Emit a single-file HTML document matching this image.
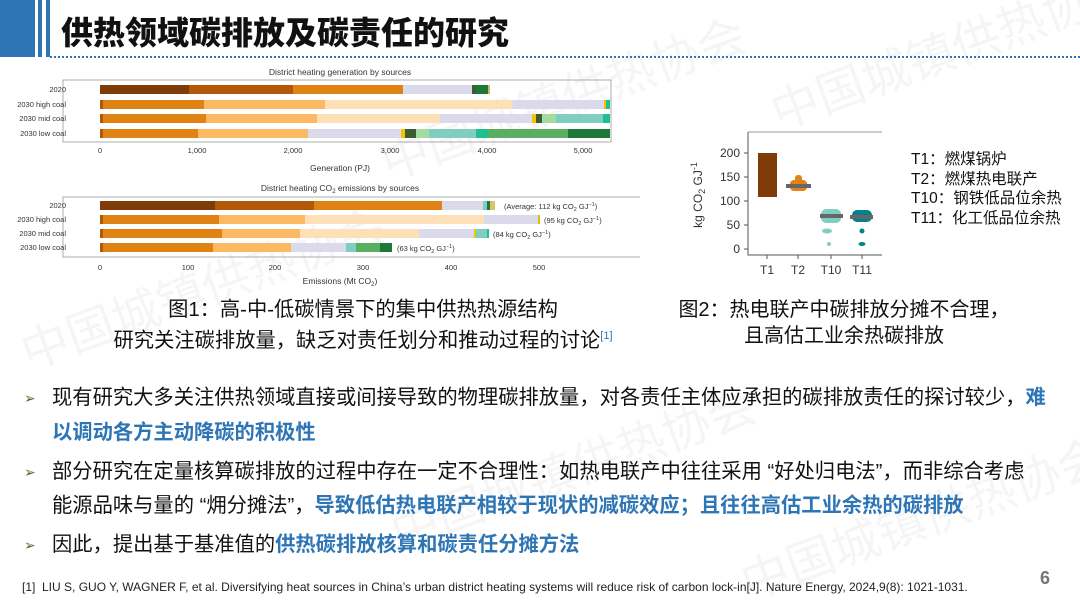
<!DOCTYPE html>
<html><head><meta charset="utf-8">
<style>
body{margin:0;width:1080px;height:608px;background:#fff;position:relative;overflow:hidden;font-family:"Liberation Sans","Noto Sans CJK SC",sans-serif;color:#111}
.a{position:absolute;white-space:nowrap}
.cn{font-family:"Liberation Sans","Noto Sans CJK SC",sans-serif}
.b{color:#2e75b6;font-weight:bold}
.bl{font-size:20.3px;line-height:24px;left:52px}
.arr{left:24px;font-size:14px;color:#4a6b2a}
.wm{position:absolute;color:rgba(0,0,0,0.04);font-size:48px;font-family:"Noto Sans CJK SC",sans-serif;transform:rotate(-20deg);white-space:nowrap}
</style></head><body>
<div class="wm" style="left:10px;top:250px">中国城镇供热协会</div>
<div class="wm" style="left:370px;top:60px">中国城镇供热协会</div>
<div class="wm" style="left:760px;top:10px">中国城镇供热协会</div>
<div class="wm" style="left:730px;top:480px">中国城镇供热协会</div>
<div class="wm" style="left:380px;top:430px">中国城镇供热协会</div>

<div class="a" style="left:0;top:0;width:35px;height:57px;background:#2e75b6"></div>
<div class="a" style="left:38px;top:0;width:4px;height:57px;background:#2e75b6"></div>
<div class="a" style="left:46px;top:0;width:4px;height:57px;background:#2e75b6"></div>
<div class="a" style="left:50px;top:56px;width:1030px;height:0;border-top:2px dotted #2e75b6"></div>
<div class="a cn" style="left:61px;top:8px;font-size:32px;font-weight:900">供热领域碳排放及碳责任的研究</div>

<svg class="a" style="left:0;top:60px" width="640" height="230" font-family="Liberation Sans, sans-serif">
<text x="340" y="15" font-size="8.5" text-anchor="middle" fill="#333">District heating generation by sources</text>
<rect x="63" y="20" width="548" height="62" fill="none" stroke="#999" stroke-width="0.8"/>
<g font-size="7.5" fill="#333" text-anchor="end">
<text x="66" y="32">2020</text><text x="66" y="47">2030 high coal</text><text x="66" y="61">2030 mid coal</text><text x="66" y="76">2030 low coal</text></g>
<g>
<rect x="100" y="25" width="89" height="9" fill="#7f3b08"/><rect x="189" y="25" width="104" height="9" fill="#b35806"/><rect x="293" y="25" width="110" height="9" fill="#e08214"/><rect x="403" y="25" width="69" height="9" fill="#dadaeb"/><rect x="472" y="25" width="4" height="9" fill="#3d5c33"/><rect x="476" y="25" width="12" height="9" fill="#1b7837"/><rect x="488" y="25" width="2" height="9" fill="#d9b365"/>
<rect x="100" y="40" width="3" height="9" fill="#b35806"/><rect x="103" y="40" width="101" height="9" fill="#e08214"/><rect x="204" y="40" width="121" height="9" fill="#fdb863"/><rect x="325" y="40" width="187" height="9" fill="#fee0b6"/><rect x="512" y="40" width="92" height="9" fill="#dadaeb"/><rect x="604" y="40" width="2" height="9" fill="#f5c400"/><rect x="606" y="40" width="4" height="9" fill="#1fbf8f"/>
<rect x="100" y="54" width="3" height="9" fill="#b35806"/><rect x="103" y="54" width="103" height="9" fill="#e08214"/><rect x="206" y="54" width="111" height="9" fill="#fdb863"/><rect x="317" y="54" width="123" height="9" fill="#fee0b6"/><rect x="440" y="54" width="92" height="9" fill="#dadaeb"/><rect x="532" y="54" width="4" height="9" fill="#f5c400"/><rect x="536" y="54" width="6" height="9" fill="#3d5c33"/><rect x="542" y="54" width="14" height="9" fill="#a6dba0"/><rect x="556" y="54" width="47" height="9" fill="#80cdc1"/><rect x="603" y="54" width="7" height="9" fill="#1fbf8f"/>
<rect x="100" y="69" width="3" height="9" fill="#b35806"/><rect x="103" y="69" width="95" height="9" fill="#e08214"/><rect x="198" y="69" width="110" height="9" fill="#fdb863"/><rect x="308" y="69" width="93" height="9" fill="#dadaeb"/><rect x="401" y="69" width="4" height="9" fill="#f5c400"/><rect x="405" y="69" width="11" height="9" fill="#3d5c33"/><rect x="416" y="69" width="13" height="9" fill="#a6dba0"/><rect x="429" y="69" width="47" height="9" fill="#80cdc1"/><rect x="476" y="69" width="12" height="9" fill="#1fbf8f"/><rect x="488" y="69" width="80" height="9" fill="#5aae61"/><rect x="568" y="69" width="42" height="9" fill="#1b7837"/>
</g>
<g font-size="7.5" fill="#333" text-anchor="middle">
<text x="100" y="93">0</text><text x="197" y="93">1,000</text><text x="293" y="93">2,000</text><text x="390" y="93">3,000</text><text x="487" y="93">4,000</text><text x="583" y="93">5,000</text>
<text x="340" y="111" font-size="8.5">Generation (PJ)</text></g>

<text x="340" y="131" font-size="8.5" text-anchor="middle" fill="#333">District heating CO<tspan font-size="6" dy="2">2</tspan><tspan dy="-2"> emissions by sources</tspan></text>
<rect x="63" y="137" width="580" height="60" fill="none" stroke="#999" stroke-width="0.8"/>
<g font-size="7.5" fill="#333" text-anchor="end">
<text x="66" y="148">2020</text><text x="66" y="162">2030 high coal</text><text x="66" y="176">2030 mid coal</text><text x="66" y="190">2030 low coal</text></g>
<rect x="100" y="141" width="115" height="9" fill="#7f3b08"/><rect x="215" y="141" width="99" height="9" fill="#b35806"/><rect x="314" y="141" width="128" height="9" fill="#e08214"/><rect x="442" y="141" width="41" height="9" fill="#dadaeb"/><rect x="483" y="141" width="4" height="9" fill="#80cdc1"/><rect x="487" y="141" width="3" height="9" fill="#1b7837"/><rect x="490" y="141" width="5" height="9" fill="#d9c36a"/>
<rect x="100" y="155" width="3" height="9" fill="#b35806"/><rect x="103" y="155" width="116" height="9" fill="#e08214"/><rect x="219" y="155" width="86" height="9" fill="#fdb863"/><rect x="305" y="155" width="179" height="9" fill="#fee0b6"/><rect x="484" y="155" width="54" height="9" fill="#dadaeb"/><rect x="538" y="155" width="2" height="9" fill="#e0c000"/>
<rect x="100" y="169" width="3" height="9" fill="#b35806"/><rect x="103" y="169" width="119" height="9" fill="#e08214"/><rect x="222" y="169" width="78" height="9" fill="#fdb863"/><rect x="300" y="169" width="119" height="9" fill="#fee0b6"/><rect x="419" y="169" width="55" height="9" fill="#dadaeb"/><rect x="474" y="169" width="2" height="9" fill="#f5c400"/><rect x="476" y="169" width="11" height="9" fill="#80cdc1"/><rect x="487" y="169" width="2" height="9" fill="#1fbf8f"/>
<rect x="100" y="183" width="3" height="9" fill="#b35806"/><rect x="103" y="183" width="110" height="9" fill="#e08214"/><rect x="213" y="183" width="78" height="9" fill="#fdb863"/><rect x="291" y="183" width="55" height="9" fill="#dadaeb"/><rect x="346" y="183" width="10" height="9" fill="#80cdc1"/><rect x="356" y="183" width="24" height="9" fill="#5aae61"/><rect x="380" y="183" width="12" height="9" fill="#1b7837"/>
<g font-size="7.5" fill="#333">
<text x="504" y="149">(Average: 112 kg CO<tspan font-size="5.5" dy="2">2</tspan><tspan dy="-2"> GJ</tspan><tspan font-size="5.5" dy="-3">−1</tspan><tspan dy="3">)</tspan></text>
<text x="544" y="163">(95 kg CO<tspan font-size="5.5" dy="2">2</tspan><tspan dy="-2"> GJ</tspan><tspan font-size="5.5" dy="-3">−1</tspan><tspan dy="3">)</tspan></text>
<text x="493" y="177">(84 kg CO<tspan font-size="5.5" dy="2">2</tspan><tspan dy="-2"> GJ</tspan><tspan font-size="5.5" dy="-3">−1</tspan><tspan dy="3">)</tspan></text>
<text x="397" y="191">(63 kg CO<tspan font-size="5.5" dy="2">2</tspan><tspan dy="-2"> GJ</tspan><tspan font-size="5.5" dy="-3">−1</tspan><tspan dy="3">)</tspan></text>
</g>
<g font-size="7.5" fill="#333" text-anchor="middle">
<text x="100" y="210">0</text><text x="188" y="210">100</text><text x="275" y="210">200</text><text x="363" y="210">300</text><text x="451" y="210">400</text><text x="539" y="210">500</text>
<text x="340" y="224" font-size="8.5">Emissions (Mt CO<tspan font-size="6" dy="2">2</tspan><tspan dy="-2">)</tspan></text></g>
</svg>

<svg class="a" style="left:680px;top:120px" width="220" height="160" font-family="Liberation Sans, sans-serif">
<polyline points="68,12 68,135 202,135" fill="none" stroke="#555" stroke-width="1"/>
<line x1="68" y1="12" x2="202" y2="12" stroke="#777" stroke-width="0.8"/>
<g font-size="12" fill="#333" text-anchor="end">
<text x="60" y="37">200</text><text x="60" y="61">150</text><text x="60" y="85">100</text><text x="60" y="109">50</text><text x="60" y="133">0</text></g>
<g stroke="#555"><line x1="64" y1="33" x2="68" y2="33"/><line x1="64" y1="57" x2="68" y2="57"/><line x1="64" y1="81" x2="68" y2="81"/><line x1="64" y1="105" x2="68" y2="105"/><line x1="64" y1="129" x2="68" y2="129"/>
<line x1="87" y1="135" x2="87" y2="139"/><line x1="118" y1="135" x2="118" y2="139"/><line x1="151" y1="135" x2="151" y2="139"/><line x1="182" y1="135" x2="182" y2="139"/></g>
<text transform="translate(22,75) rotate(-90)" font-size="12" fill="#333" text-anchor="middle">kg CO<tspan font-size="9" dy="3">2</tspan><tspan dy="-3"> GJ</tspan><tspan font-size="9" dy="-5">-1</tspan></text>
<rect x="78" y="33" width="19" height="44" fill="#7f3b08"/>
<rect x="110" y="60" width="17" height="11" rx="4" fill="#e08214"/><rect x="115" y="55" width="7" height="8" rx="3" fill="#e08214"/>
<rect x="106" y="64" width="25" height="4" fill="#666"/>
<g fill="#80cdc1"><rect x="141" y="89" width="20" height="14" rx="5"/><ellipse cx="147" cy="111" rx="5" ry="2.5"/><circle cx="149" cy="124" r="2"/></g>
<rect x="140" y="94" width="23" height="4" fill="#666"/>
<g fill="#00838f"><rect x="172" y="90" width="20" height="12" rx="5"/><circle cx="182" cy="111" r="2.5"/><ellipse cx="182" cy="124" rx="3.5" ry="2"/></g>
<rect x="170" y="95" width="23" height="4" fill="#666"/>
<g font-size="12" fill="#333" text-anchor="middle"><text x="87" y="154">T1</text><text x="118" y="154">T2</text><text x="151" y="154">T10</text><text x="182" y="154">T11</text></g>
</svg>

<div class="a" style="left:911px;top:150px;font-size:15.5px;line-height:19.5px">T1：燃煤锅炉<br>T2：燃煤热电联产<br>T10：钢铁低品位余热<br>T11：化工低品位余热</div>

<div class="a" style="left:113px;top:297px;font-size:20.3px;line-height:26px;text-align:center;width:500px">图1：高-中-低碳情景下的集中供热热源结构<br>研究关注碳排放量，缺乏对责任划分和推动过程的讨论<sup style="font-size:11px;color:#2e75b6">[1]</sup></div>
<div class="a" style="left:664px;top:297px;font-size:20px;line-height:26px;text-align:center;width:360px">图2：热电联产中碳排放分摊不合理，<br>且高估工业余热碳排放</div>

<div class="a arr" style="top:390px">➢</div>
<div class="a bl" style="top:386px">现有研究大多关注供热领域直接或间接导致的物理碳排放量，对各责任主体应承担的碳排放责任的探讨较少，<span class="b">难</span></div>
<div class="a bl b" style="top:421px">以调动各方主动降碳的积极性</div>
<div class="a arr" style="top:464px">➢</div>
<div class="a bl" style="top:460px">部分研究在定量核算碳排放的过程中存在一定不合理性：如热电联产中往往采用 “好处归电法”，而非综合考虑</div>
<div class="a bl" style="top:494px">能源品味与量的 “㶲分摊法”，<span class="b">导致低估热电联产相较于现状的减碳效应；且往往高估工业余热的碳排放</span></div>
<div class="a arr" style="top:537px">➢</div>
<div class="a bl" style="top:533px">因此，提出基于基准值的<span class="b">供热碳排放核算和碳责任分摊方法</span></div>

<div class="a" style="left:22px;top:580px;font-size:12px;color:#222">[1]&nbsp; LIU S, GUO Y, WAGNER F, et al. Diversifying heat sources in China’s urban district heating systems will reduce risk of carbon lock-in[J]. Nature Energy, 2024,9(8): 1021-1031.</div>
<div class="a" style="left:1040px;top:568px;font-size:18px;font-weight:bold;color:#777">6</div>
</body></html>
